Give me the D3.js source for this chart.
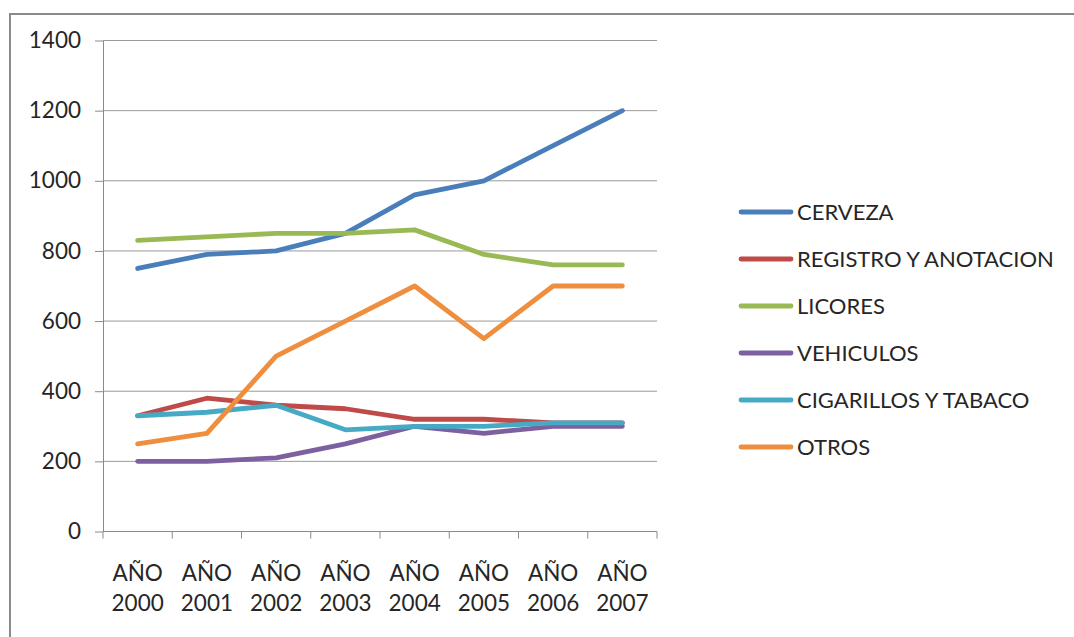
<!DOCTYPE html>
<html>
<head>
<meta charset="utf-8">
<script src="https://cdn.jsdelivr.net/npm/d3@7"></script>
<style>
  html, body { margin: 0; padding: 0; background: #fff; }
  svg { display: block; }
  text { font-family: Lato, "Open Sans", sans-serif; fill: #262626; }
</style>
</head>
<body>
<svg id="chart" width="1074" height="637"></svg>
<script>
// Recaudo por concepto, 2000-2007
const years = ["AÑO 2000", "AÑO 2001", "AÑO 2002", "AÑO 2003", "AÑO 2004", "AÑO 2005", "AÑO 2006", "AÑO 2007"];
const seriesNames = ["CERVEZA", "REGISTRO Y ANOTACION", "LICORES", "VEHICULOS", "CIGARILLOS Y TABACO", "OTROS"];
const cerveza    = [750, 790, 800, 850, 960, 1000, 1100, 1200];
const registro   = [330, 380, 360, 350, 320, 320, 310, 310];
const licores    = [830, 840, 850, 850, 860, 790, 760, 760];
const vehiculos  = [200, 200, 210, 250, 300, 280, 300, 300];
const cigarillos = [330, 340, 360, 290, 300, 300, 310, 310];
const otros      = [250, 280, 500, 600, 700, 550, 700, 700];
const yTicks = [0, 200, 400, 600, 800, 1000, 1200, 1400];
const colors = ["#4A7EBB", "#BE4B48", "#98B954", "#7D60A0", "#46AAC5", "#EE8E3E"];

const seriesValues = [cerveza, registro, licores, vehiculos, cigarillos, otros];
const series = seriesNames.map((name, i) => ({ name, values: seriesValues[i], color: colors[i] }));

const svg = d3.select("#chart");

// Outer frame
svg.append("rect")
  .attr("x", 10).attr("y", 14)
  .attr("width", 1200).attr("height", 800)
  .attr("fill", "#fff")
  .attr("stroke", "#8a8a8a").attr("stroke-width", 2);

const plot = { left: 103, right: 657, top: 40.5, bottom: 531.5 };

const x = d3.scaleBand().domain(years).range([plot.left, plot.right]).padding(0);
const y = d3.scaleLinear().domain([0, 1400]).range([plot.bottom, plot.top]);

// Horizontal gridlines
svg.append("g")
  .selectAll("line")
  .data(yTicks.filter(d => d > 0))
  .join("line")
  .attr("x1", plot.left).attr("x2", plot.right)
  .attr("y1", d => y(d)).attr("y2", d => y(d))
  .attr("stroke", "#9a9a9a").attr("stroke-width", 1);

// Y axis
const yAxis = svg.append("g")
  .attr("transform", `translate(${plot.left},0)`)
  .call(d3.axisLeft(y).tickValues(yTicks).tickFormat(d3.format("d"))
    .tickSize(8).tickPadding(14).tickSizeOuter(0));
yAxis.select(".domain").attr("stroke", "#8a8a8a");
yAxis.selectAll(".tick line").attr("stroke", "#8a8a8a");
yAxis.selectAll(".tick text")
  .style("font-family", "Lato, 'Open Sans', sans-serif")
  .attr("font-size", 22.5).attr("fill", "#262626");

// X axis with ticks at category boundaries
const xAxisG = svg.append("g").attr("transform", `translate(0,${plot.bottom})`);
xAxisG.append("line")
  .attr("x1", plot.left).attr("x2", plot.right)
  .attr("y1", 0).attr("y2", 0)
  .attr("stroke", "#8a8a8a");
const boundaries = years.map(d => x(d)).concat([x(years[years.length - 1]) + x.bandwidth()]);
xAxisG.selectAll("line.tk")
  .data(boundaries)
  .join("line")
  .attr("class", "tk")
  .attr("x1", d => d).attr("x2", d => d)
  .attr("y1", 0).attr("y2", 7)
  .attr("stroke", "#8a8a8a");
const xLabels = xAxisG.selectAll("text.xl")
  .data(years)
  .join("text")
  .attr("class", "xl")
  .attr("text-anchor", "middle")
  .attr("font-size", 22.5)
  .attr("transform", d => `translate(${x(d) + x.bandwidth() / 2},0)`);
xLabels.append("tspan").attr("x", 0).attr("y", 49).text(d => d.split(" ")[0]);
xLabels.append("tspan").attr("x", 0).attr("y", 79).text(d => d.split(" ")[1]);

// Series lines
const line = d3.line()
  .x((d, i) => x(years[i]) + x.bandwidth() / 2)
  .y(d => y(d));

svg.append("g")
  .selectAll("path")
  .data(series)
  .join("path")
  .attr("d", d => line(d.values))
  .attr("fill", "none")
  .attr("stroke", d => d.color)
  .attr("stroke-width", 4.8)
  .attr("stroke-linejoin", "round")
  .attr("stroke-linecap", "round");

// Legend
const legend = svg.append("g");
const legendRow = legend.selectAll("g")
  .data(series)
  .join("g")
  .attr("transform", (d, i) => `translate(741,${212 + i * 47})`);
legendRow.append("line")
  .attr("x1", 0).attr("x2", 50)
  .attr("stroke", d => d.color)
  .attr("stroke-width", 4.8)
  .attr("stroke-linecap", "round");
legendRow.append("text")
  .attr("x", 56).attr("y", 0)
  .attr("dy", "0.36em")
  .attr("font-size", 22)
  .text(d => d.name);
</script>
</body>
</html>
